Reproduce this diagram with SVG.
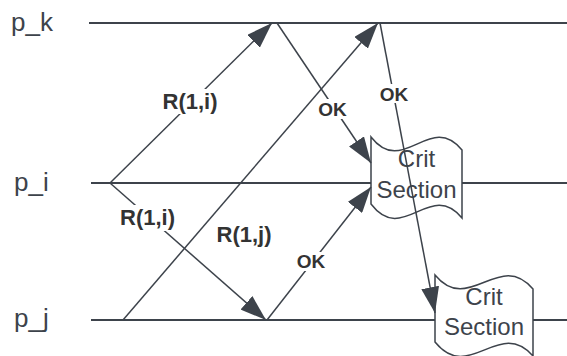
<svg xmlns="http://www.w3.org/2000/svg" width="567" height="356" viewBox="0 0 567 356">
<style>
.life{stroke:#3d434b;stroke-width:2;fill:none}
.conn{stroke:#3d434b;stroke-width:1.5;fill:none;marker-end:url(#ah)}
.shape{fill:#fff;stroke:#3d434b;stroke-width:1.5}
.name{font-family:"Liberation Sans",Arial,sans-serif;font-size:26px;fill:#3d434b}
.st{font-family:"Liberation Sans",Arial,sans-serif;font-size:24px;fill:#3d434b;text-anchor:middle}
.lbl{font-family:"Liberation Sans",Arial,sans-serif;font-weight:bold;fill:#333;text-anchor:middle}
.bg{fill:#fff}
</style>
<defs>
<marker id="ah" viewBox="0 0 26 18" refX="26" refY="9" markerWidth="26" markerHeight="18" markerUnits="userSpaceOnUse" orient="auto">
<path d="M0,0 L26,9 L0,18 z" fill="#3d434b"/>
</marker>
</defs>
<g id="lifelines">
<line class="life" x1="89" y1="23" x2="567" y2="23"/>
<line class="life" x1="91" y1="183" x2="567" y2="183"/>
<line class="life" x1="91" y1="320" x2="567" y2="320"/>
<text class="name" x="11" y="31">p_k</text>
<text class="name" x="14" y="191">p_i</text>
<text class="name" x="14" y="327">p_j</text>
</g>
<g id="crit1">
<path class="shape" d="M371,137 C403,178 430,111 462,150 L462,218 C430,179 403,246 371,204 Z"/>
<text class="st" x="416.5" y="167">Crit</text>
<text class="st" x="416.5" y="198">Section</text>
</g>
<g id="crit2">
<path class="shape" d="M435,275 C469,316 499,249 533,289 L533,356 C499,317 469,384 435,342 Z"/>
<text class="st" x="484" y="305">Crit</text>
<text class="st" x="484" y="335">Section</text>
</g>
<g id="connectors">
<line class="conn" x1="110" y1="183" x2="272" y2="23"/>
<line class="conn" x1="110" y1="183" x2="266" y2="320"/>
<line class="conn" x1="277" y1="23" x2="371" y2="163"/>
<line class="conn" x1="123" y1="320" x2="378" y2="23"/>
<line class="conn" x1="380" y1="23" x2="435" y2="313"/>
<line class="conn" x1="267" y1="320" x2="371" y2="187"/>
</g>
<g id="labels">
<rect class="bg" x="160" y="89" width="60" height="25"/>
<text class="lbl" x="190" y="109" font-size="22">R(1,i)</text>
<rect class="bg" x="116" y="205" width="63" height="26"/>
<text class="lbl" x="147.5" y="225" font-size="22">R(1,i)</text>
<text class="lbl" x="244" y="242" font-size="22">R(1,j)</text>
<rect class="bg" x="316" y="99" width="33" height="20"/>
<text class="lbl" x="332.5" y="116" font-size="19">OK</text>
<rect class="bg" x="377" y="84" width="34" height="19"/>
<text class="lbl" x="394" y="100.5" font-size="19">OK</text>
<rect class="bg" x="294" y="252" width="34" height="19"/>
<text class="lbl" x="311" y="268" font-size="19">OK</text>
</g>
</svg>
